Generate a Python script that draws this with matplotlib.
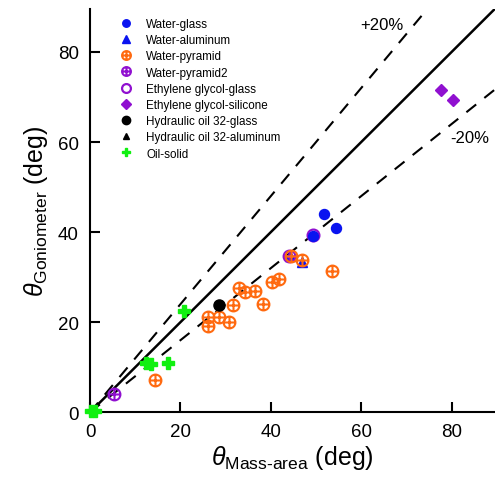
import matplotlib
matplotlib.use("Agg")
import matplotlib.pyplot as plt
import numpy as np
from matplotlib.path import Path

plt.rcParams['font.family'] = ['Liberation Sans', 'DejaVu Sans']
plt.rcParams['mathtext.fontset'] = 'custom'
plt.rcParams['mathtext.rm'] = 'Liberation Sans'
plt.rcParams['mathtext.it'] = 'Liberation Sans:italic'

# data (theta_mass-area, theta_goniometer)
water_glass_x = [51.7, 54.4, 49.3]
water_glass_y = [44.0, 40.8, 39.2]
water_al_x = [44.2, 46.8]
water_al_y = [34.6, 33.4]
water_pyr_x = [33.0, 34.2, 36.5, 40.3, 41.8, 31.6, 38.3, 26.1, 28.6, 30.8, 26.1, 14.3, 44.5, 46.8, 53.6]
water_pyr_y = [27.5, 26.7, 27.0, 29.0, 29.6, 23.8, 24.1, 21.1, 21.1, 20.0, 19.2, 7.2, 34.6, 33.8, 31.3]
water_pyr2_x = [5.4, 44.0]
water_pyr2_y = [4.1, 34.8]
eg_glass_x = [49.3]
eg_glass_y = [39.4]
eg_sil_x = [77.7, 80.3]
eg_sil_y = [71.6, 69.4]
ho_glass_x = [28.6]
ho_glass_y = [23.9]
ho_al_x = [0.6]
ho_al_y = [0.4]
oil_x = [20.7, 12.3, 13.4, 17.3, 0.3, 1.0]
oil_y = [22.4, 11.0, 10.6, 11.0, 0.2, 0.3]

ref_x = [0, 90]
ratios = [1.0, 1.2, 0.8]

fig = plt.figure(figsize=(4.95, 4.85), dpi=100)
ax = fig.add_axes([0.182, 0.148, 0.818, 0.831])

oplus = Path.make_compound_path(
    Path.unit_circle(),
    Path([(-1, 0), (1, 0)], [Path.MOVETO, Path.LINETO]),
    Path([(0, -1), (0, 1)], [Path.MOVETO, Path.LINETO]),
)

ax.plot(ref_x, [ratios[0] * v for v in ref_x], color='black', lw=1.8, zorder=1)
ax.plot(ref_x, [ratios[1] * v for v in ref_x], color='black', lw=1.5, ls=(0, (6, 5)), zorder=1)
ax.plot(ref_x, [ratios[2] * v for v in ref_x], color='black', lw=1.5, ls=(0, (6, 5)), zorder=1)

blue = '#0a14f0'
orange = '#ff6a10'
purple = '#9010d0'
green = '#10f010'

ax.plot(water_glass_x, water_glass_y, 'o', color=blue, ms=7.2, ls='none', label='Water-glass', zorder=3)
ax.plot(water_al_x, water_al_y, '^', color=blue, ms=7, ls='none', label='Water-aluminum', zorder=2)
ax.plot(water_pyr_x, water_pyr_y, marker=oplus, mfc='none', mec=orange, mew=1.5, ms=8.5, ls='none', label='Water-pyramid', zorder=3)
ax.plot(water_pyr2_x, water_pyr2_y, marker=oplus, mfc='none', mec=purple, mew=1.5, ms=8.5, ls='none', label='Water-pyramid2', zorder=2)
ax.plot(eg_glass_x, eg_glass_y, 'o', mfc='none', mec=purple, mew=1.6, ms=8.5, ls='none', label='Ethylene glycol-glass', zorder=2)
ax.plot(eg_sil_x, eg_sil_y, 'D', color=purple, ms=6.5, ls='none', label='Ethylene glycol-silicone', zorder=3)
ax.plot(ho_glass_x, ho_glass_y, 'o', color='black', ms=8, ls='none', label='Hydraulic oil 32-glass', zorder=3)
ax.plot(ho_al_x, ho_al_y, '^', color='black', ms=6, ls='none', label='Hydraulic oil 32-aluminum', zorder=2)
ax.plot(oil_x, oil_y, 'P', color=green, ms=8, ls='none', label='Oil-solid', zorder=4, clip_on=False)

ax.set_xlim(0, 89.6)
ax.set_ylim(0, 89.5)
ax.set_xticks([0, 20, 40, 60, 80])
ax.set_yticks([0, 20, 40, 60, 80])
ax.tick_params(direction='in', length=7, width=1.5, labelsize=13.5, pad=8)
for s in ['top', 'right']:
    ax.spines[s].set_visible(False)
for s in ['left', 'bottom']:
    ax.spines[s].set_linewidth(1.5)

ax.set_xlabel(r'$\mathit{\theta}_{\text{Mass-area}}$ (deg)', fontsize=18, labelpad=2)
ax.set_ylabel(r'$\mathit{\theta}_{\text{Goniometer}}$ (deg)', fontsize=18, labelpad=6)

ax.text(59.7, 86.2, '+20%', fontsize=12, va='center', ha='left')
ax.text(79.6, 61.1, '-20%', fontsize=12, va='center', ha='left')

leg = ax.legend(loc='upper left', bbox_to_anchor=(0.045, 1.0), frameon=False, fontsize=8.4,
                handletextpad=1.0, labelspacing=0.36, handlelength=1.5, borderaxespad=0.35,
                markerscale=0.75)

fig.savefig('out.png', dpi=100)
